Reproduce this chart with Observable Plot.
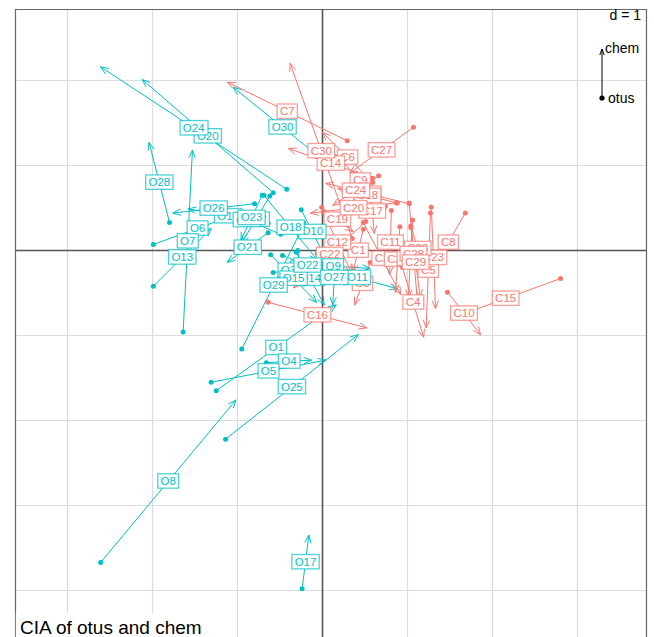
<!DOCTYPE html>
<html><head><meta charset="utf-8">
<script src="https://cdn.jsdelivr.net/npm/d3@7"></script>
<script src="https://cdn.jsdelivr.net/npm/@observablehq/plot@0.6"></script>
<style>body{margin:0;background:#fff;font-family:"Liberation Sans",Arial,sans-serif}</style>
</head><body><div id="chart"></div>
<script>
const title = "CIA of otus and chem";
const gridLabel = "d = 1";
const legendNames = ["chem", "otus"];
const xTicks = [-3, -2, -1, 1, 2, 3];
const yTicks = [2, 1, -1, -2, -3, -4];
const xDomain = [-3.612, 3.812];
const yDomain = [-4.553, 2.835];

const oNames = ["O1","O2","O3","O4","O5","O6","O7","O8","O9","O10","O11","O12","O13","O14","O15","O16","O17","O18","O19","O20","O21","O22","O23","O24","O25","O26","O27","O28","O29","O30"];
const oX1 = [-1.25,-0.29,-0.58,-0.66,-1.31,-1.99,-1.64,-2.61,-0.31,-0.25,-0.06,-0.62,-1.99,-0.31,-0.61,-0.64,-0.24,-0.69,-0.49,-0.58,-0.64,-0.47,-0.71,-0.42,-1.14,-0.80,0.16,-1.80,-0.95,0.11];
const oY1 = [-1.65,0,-0.26,-1.32,-1.55,0.07,-0.96,-3.67,-0.16,0.48,-0.19,0.64,-0.42,-0.02,-0.05,0.32,-3.98,0.65,0.19,0.68,0.21,-0.06,0.65,0.72,-2.22,0.55,0,0.33,-1.16,0.98];
const oX2 = [0.16,-0.22,-0.22,-0.13,0.04,-0.95,-1.53,-1.02,0.56,0.01,0.88,-0.95,-1.31,0.02,-0.07,-1.58,-0.16,-0.06,-1.29,-2.12,-1.12,0.12,-0.96,-2.61,0.42,-1.76,0.12,-2.04,-0.20,-1.05];
const oY2 = [-0.64,-0.42,-0.21,-1.29,-1.29,0.45,1.18,-1.76,-0.21,-0.04,-0.45,0.09,0.26,-0.64,-0.61,0.49,-3.35,-0.11,0.53,2.01,-0.14,-0.29,0.12,2.16,-0.99,0.44,-0.64,1.27,0.34,1.92];

const cNames = ["C1","C2","C3","C4","C5","C6","C7","C8","C9","C10","C11","C12","C13","C14","C15","C16","C17","C18","C19","C20","C21","C22","C23","C24","C25","C26","C27","C28","C29","C30"];
const cX1 = [0.48,0.48,0.56,0.94,1.27,0.59,0.29,1.68,0.74,1.47,0.81,0.01,1.02,0.59,2.80,-0.64,0.56,0.88,-0.01,0.87,0.91,0.51,1.28,0.66,1.06,1.04,1.07,1.02,1.04,0.35];
const cY1 = [0.25,0.33,-0.14,-0.20,0.44,0.80,1.29,0.44,0.52,-0.49,0.47,0.45,0.55,0.85,-0.33,-0.61,0.72,0.56,0.51,0.56,0.28,0.34,0.51,0.88,0.36,0.29,1.45,0.56,0.27,0.14];
const cX2 = [0.36,0.92,0.38,1.19,1.22,0,-1.12,1.28,0.15,1.86,0.79,0.34,0.04,-0.40,1.51,0.52,0.61,0.18,0.36,-0.14,0.86,-0.34,1.33,0.12,1.01,1.20,0.32,1.12,1.15,-0.38];
const cY2 = [-0.25,-0.52,-0.64,-1.02,-0.91,1.39,1.98,-0.25,1.13,-0.99,-0.28,-0.26,0.79,1.20,-0.80,-0.91,0.20,0.73,0.22,0.44,-0.49,-0.44,-0.68,0.53,-0.55,-0.25,0.91,-0.64,-0.55,2.20];

const teal = "#00BFC4", red = "#F8766D";
const oRows = oNames.map((n, i) => ({name: n, x1: oX1[i], y1: oY1[i], x2: oX2[i], y2: oY2[i]}));
const cRows = cNames.map((n, i) => ({name: n, x1: cX1[i], y1: cY1[i], x2: cX2[i], y2: cY2[i]}));

const font = "Liberation Sans, Arial, sans-serif";
const mid = k => d => (d[k + "1"] + d[k + "2"]) / 2;

const decor = (index, scales, values, dim) => {
  const g = d3.create("svg:g").attr("font-family", font).attr("text-anchor", "start");
  const L = dim.marginLeft, H = dim.height, W = dim.width - dim.marginRight;
  g.append("rect").attr("x", L + 0.8).attr("y", H - 24).attr("width", 190).attr("height", 24).attr("fill", "white");
  g.append("text").attr("x", L + 5).attr("y", H - 3.5).attr("font-size", 19).attr("text-anchor", "start").attr("fill", "black").text(title);
  g.append("text").attr("x", W - 5).attr("y", 20).attr("font-size", 14).attr("text-anchor", "end").attr("fill", "black").text(gridLabel);
  const ax = W - 44, ay1 = 98, ay2 = 49;
  g.append("line").attr("x1", ax).attr("x2", ax).attr("y1", ay1).attr("y2", ay2).attr("stroke", "black").attr("stroke-width", 1);
  g.append("path").attr("d", `M${ax - 2.2},${ay2 + 6}L${ax},${ay2}L${ax + 2.2},${ay2 + 6}`).attr("fill", "none").attr("stroke", "black").attr("stroke-width", 1);
  g.append("circle").attr("cx", ax).attr("cy", ay1).attr("r", 2.6).attr("fill", "black");
  g.append("text").attr("x", ax + 3).attr("y", ay2 + 4).attr("font-size", 14).attr("text-anchor", "start").attr("fill", "black").text(legendNames[0]);
  g.append("text").attr("x", ax + 6).attr("y", ay1 + 5).attr("font-size", 14).attr("text-anchor", "start").attr("fill", "black").text(legendNames[1]);
  return g.node();
};

const arrowOpts = (color) => ({x1: "x1", y1: "y1", x2: "x2", y2: "y2", stroke: color, strokeWidth: 1, headLength: 12, headAngle: 45});

const chart = Plot.plot({
  width: 654,
  height: 637,
  marginLeft: 15,
  marginRight: 8,
  marginTop: 9,
  marginBottom: 0,
  x: {domain: xDomain, axis: null},
  y: {domain: yDomain, axis: null},
  style: {background: "white", fontFamily: font},
  marks: [
    Plot.ruleX(xTicks, {stroke: "#dcdcdc", strokeWidth: 1.2}),
    Plot.ruleY(yTicks, {stroke: "#dcdcdc", strokeWidth: 1.2}),
    Plot.ruleX([0], {stroke: "#555", strokeWidth: 1.6}),
    Plot.ruleY([0], {stroke: "#555", strokeWidth: 1.6}),
    Plot.ruleX([xDomain[0], xDomain[1]], {stroke: "#666", strokeWidth: 1.2}),
    Plot.ruleY([yDomain[1]], {stroke: "#666", strokeWidth: 1.2}),
    decor,
    Plot.arrow(oRows, arrowOpts(teal)),
    Plot.arrow(cRows, arrowOpts(red)),
    Plot.dot(oRows, {x: "x1", y: "y1", r: 2.5, fill: teal}),
    Plot.dot(cRows, {x: "x1", y: "y1", r: 2.5, fill: red}),
    Plot.text(cRows, {x: mid("x"), y: mid("y"), text: "name", fill: red, fontSize: 11.5, fontFamily: font}),
    Plot.text(oRows, {x: mid("x"), y: mid("y"), text: "name", fill: teal, fontSize: 11.5, fontFamily: font})
  ]
});
document.getElementById("chart").appendChild(chart);

const boxColor = {"#f8766d": red, "#00bfc4": teal};
chart.querySelectorAll("g").forEach(g => {
  const f = (g.getAttribute("fill") || "").toLowerCase();
  if (!(f in boxColor)) return;
  const texts = g.querySelectorAll(":scope > text");
  if (!texts.length) return;
  texts.forEach(t => {
    const b = t.getBBox();
    const r = document.createElementNS("http://www.w3.org/2000/svg", "rect");
    r.setAttribute("x", b.x - 2.8);
    r.setAttribute("y", b.y - 1.2);
    r.setAttribute("width", b.width + 5.6);
    r.setAttribute("height", b.height + 2.4);
    r.setAttribute("fill", "white");
    r.setAttribute("stroke", boxColor[f]);
    r.setAttribute("stroke-opacity", 0.7);
    r.setAttribute("stroke-width", 1.3);
    const tr = t.getAttribute("transform");
    if (tr) r.setAttribute("transform", tr);
    t.parentNode.insertBefore(r, t);
  });
});
</script>
</body></html>
